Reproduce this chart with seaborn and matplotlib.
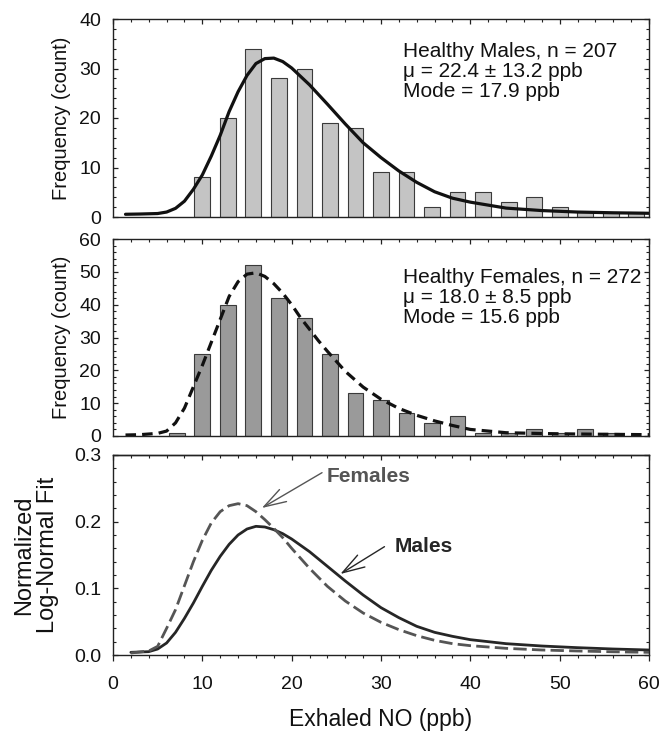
import matplotlib
matplotlib.use("Agg")
import matplotlib.pyplot as plt
import seaborn as sns
from matplotlib.ticker import MultipleLocator, FormatStrFormatter

sns.set_theme(style="white")
plt.rcParams['font.family'] = ['Liberation Sans', 'DejaVu Sans']

# ---------------- data ----------------
male_bins = [10.0, 12.86, 15.71, 18.57, 21.43, 24.29, 27.14, 30.0, 32.86, 35.71,
             38.57, 41.43, 44.29, 47.14, 50.0, 52.86, 55.71, 58.57]
male_counts = [8, 20, 34, 28, 30, 19, 18, 9, 9, 2, 5, 5, 3, 4, 2, 1, 1, 1]

female_bins = [7.14, 10.0, 12.86, 15.71, 18.57, 21.43, 24.29, 27.14, 30.0, 32.86,
               35.71, 38.57, 41.43, 44.29, 47.14, 50.0, 52.86, 55.71]
female_counts = [1, 25, 40, 52, 42, 36, 25, 13, 11, 7, 4, 6, 1, 1, 2, 1, 2, 1]

male_fit_x = [1.4, 3, 5, 6, 7, 8, 9, 10, 11, 12, 13, 14, 15, 16, 17, 18, 19, 20,
              21, 22, 24, 26, 28, 30, 32, 34, 36, 38, 40, 44, 48, 52, 56, 60]
male_fit_y = [0.55, 0.6, 0.7, 1.0, 1.75, 3.2, 5.6, 8.5, 12.3, 16.5, 21.3, 25.3, 28.6,
              31.0, 32.0, 32.1, 31.4, 30.1, 28.4, 26.7, 22.8, 18.8, 15.0, 12.0, 9.3,
              7.0, 5.1, 3.8, 3.0, 1.8, 1.3, 1.0, 0.85, 0.75]

female_fit_x = [1.4, 3, 5, 6, 7, 8, 9, 10, 11, 12, 13, 14, 15, 16, 17, 18, 19, 20,
                21, 22, 23, 24, 26, 28, 30, 32, 34, 36, 38, 40, 44, 48, 52, 56, 60]
female_fit_y = [0.3, 0.4, 0.8, 1.5, 4.0, 8.5, 15.0, 21.5, 28.5, 35.5, 42.5, 47.0,
                49.3, 49.7, 48.6, 46.4, 43.5, 40.0, 36.0, 32.5, 29.0, 25.8, 19.7,
                14.9, 11.2, 8.4, 6.3, 4.6, 3.2, 2.0, 1.0, 0.75, 0.6, 0.5, 0.4]

norm_x = [2, 4, 5, 6, 7, 8, 9, 10, 11, 12, 13, 14, 15, 16, 17, 18, 19, 20, 22, 24,
          26, 28, 30, 32, 34, 36, 38, 40, 44, 48, 52, 56, 60]
norm_male = [0.004, 0.005, 0.009, 0.018, 0.034, 0.055, 0.078, 0.103, 0.127, 0.148,
             0.166, 0.180, 0.189, 0.193, 0.192, 0.188, 0.182, 0.174, 0.155, 0.133,
             0.111, 0.090, 0.071, 0.056, 0.043, 0.034, 0.028, 0.023, 0.017, 0.0135,
             0.011, 0.009, 0.0075]
norm_female = [0.003, 0.006, 0.013, 0.040, 0.068, 0.104, 0.140, 0.172, 0.198, 0.215,
               0.224, 0.227, 0.224, 0.215, 0.203, 0.190, 0.176, 0.160, 0.130, 0.103,
               0.081, 0.063, 0.049, 0.038, 0.029, 0.022, 0.017, 0.014, 0.010, 0.0075,
               0.006, 0.0048, 0.004]

male_lines = ["Healthy Males, n = 207", "μ = 22.4 ± 13.2 ppb", "Mode = 17.9 ppb"]
female_lines = ["Healthy Females, n = 272", "μ = 18.0 ± 8.5 ppb", "Mode = 15.6 ppb"]

# ---------------- figure ----------------
FW, FH = 661, 732
fig = plt.figure(figsize=(FW / 100, FH / 100), dpi=100)


def px_axes(x0, x1, y0, y1):
    return fig.add_axes([x0 / FW, 1 - y1 / FH, (x1 - x0) / FW, (y1 - y0) / FH])


ax1 = px_axes(113, 649, 19, 217)
ax2 = px_axes(113, 649, 239, 436)
ax3 = px_axes(113, 649, 455, 655)

TICK_FS = 14
edge = '#3a3a3a'
spine_c = '#222222'

sns.barplot(x=male_bins, y=male_counts, native_scale=True, width=0.62,
            color='#c4c4c4', edgecolor=edge, linewidth=0.8, saturation=1,
            errorbar=None, ax=ax1)
sns.lineplot(x=male_fit_x, y=male_fit_y, color='#111111', lw=2.3, ax=ax1)

sns.barplot(x=female_bins, y=female_counts, native_scale=True, width=0.62,
            color='#9a9a9a', edgecolor=edge, linewidth=0.8, saturation=1,
            errorbar=None, ax=ax2)
sns.lineplot(x=female_fit_x, y=female_fit_y, color='#111111', lw=2.3,
             linestyle=(0, (3.3, 1.9)), ax=ax2)

sns.lineplot(x=norm_x, y=norm_male, color='#262626', lw=2.0, ax=ax3)
sns.lineplot(x=norm_x, y=norm_female, color='#555555', lw=2.0,
             linestyle=(0, (4.8, 1.9)), ax=ax3)

for ax in (ax1, ax2, ax3):
    ax.set_xlim(0, 60)
    ax.xaxis.set_major_locator(MultipleLocator(10))
    ax.xaxis.set_minor_locator(MultipleLocator(2))
    for s in ax.spines.values():
        s.set_color(spine_c)
        s.set_linewidth(1.0)
    ax.tick_params(axis='y', which='both', direction='in', left=True, right=True,
                   color=spine_c, labelsize=TICK_FS, pad=8.5, labelcolor='#111111')
    ax.tick_params(axis='y', which='major', length=3.6, width=0.9)
    ax.tick_params(axis='y', which='minor', length=2.2, width=0.8)
    ax.set_xlabel('')
    ax.set_ylabel('')

for ax in (ax1, ax2):
    ax.tick_params(axis='x', which='both', direction='in', top=True, bottom=False,
                   labelbottom=False, color=spine_c)
    ax.tick_params(axis='x', which='major', length=3.6, width=0.9)
    ax.tick_params(axis='x', which='minor', length=2.4, width=0.8)
    ax.set_ylabel('Frequency (count)', fontsize=14.5, color='#111111')
    ax.yaxis.set_label_coords((71 - 113) / 536, 0.5)

ax1.set_ylim(0, 40)
ax1.yaxis.set_major_locator(MultipleLocator(10))
ax1.yaxis.set_minor_locator(MultipleLocator(2))
ax2.set_ylim(0, 60)
ax2.yaxis.set_major_locator(MultipleLocator(10))
ax2.yaxis.set_minor_locator(MultipleLocator(2))

ax3.set_ylim(0, 0.3)
ax3.yaxis.set_major_locator(MultipleLocator(0.1))
ax3.yaxis.set_minor_locator(MultipleLocator(0.02))
ax3.yaxis.set_major_formatter(FormatStrFormatter('%.1f'))
ax3.tick_params(axis='x', which='both', direction='out', bottom=True, top=False,
                labelsize=TICK_FS, color=spine_c, pad=11, labelcolor='#111111')
ax3.tick_params(axis='x', which='major', length=4.2, width=0.9)
ax3.tick_params(axis='x', which='minor', length=2.4, width=0.8)
sec = ax3.secondary_xaxis('top')
sec.xaxis.set_major_locator(MultipleLocator(10))
sec.xaxis.set_minor_locator(MultipleLocator(2))
sec.tick_params(axis='x', which='both', direction='in', labeltop=False, color=spine_c)
sec.tick_params(axis='x', which='major', length=3.6, width=0.9)
sec.tick_params(axis='x', which='minor', length=2.4, width=0.8)
sec.spines['top'].set_linewidth(1.0)
sec.spines['top'].set_color(spine_c)

ax3.set_xlabel('Exhaled NO (ppb)', fontsize=16.5, color='#111111')
ax3.xaxis.label.set_verticalalignment('baseline')
ax3.xaxis.set_label_coords(0.5, (655 - 726) / 200)
ax3.set_ylabel('Normalized\nLog-Normal Fit', fontsize=17, linespacing=1.1,
               color='#111111')
ax3.yaxis.set_label_coords((59 - 113) / 536, 0.5)

# annotation blocks (baselines in figure pixels)
for lines, bases in ((male_lines, (57, 77, 97)), (female_lines, (283, 303, 323))):
    for s, b in zip(lines, bases):
        fig.text(403 / FW, 1 - b / FH, s, ha='left', va='baseline', fontsize=15,
                 color='#111111')

arrow_f = dict(arrowstyle='->,head_length=1.6,head_width=0.5', color='#555555',
               lw=1.0, shrinkA=0, shrinkB=0, mutation_scale=10)
arrow_m = dict(arrowstyle='->,head_length=1.6,head_width=0.5', color='#262626',
               lw=1.0, shrinkA=0, shrinkB=0, mutation_scale=10)
ax3.annotate('', xy=(16.66, 0.2205), xytext=(23.4, 0.2735), arrowprops=arrow_f)
ax3.annotate('', xy=(25.45, 0.1215), xytext=(30.39, 0.1625), arrowprops=arrow_m)
ax3.text(23.96, 0.26, 'Females', ha='left', va='baseline', fontsize=15,
         fontweight='bold', color='#555555')
ax3.text(31.54, 0.155, 'Males', ha='left', va='baseline', fontsize=15,
         fontweight='bold', color='#262626')

fig.savefig('out.png', dpi=100)
